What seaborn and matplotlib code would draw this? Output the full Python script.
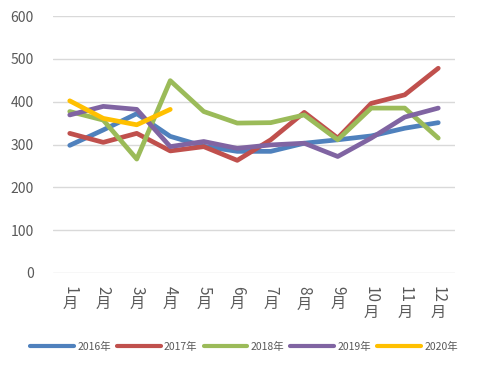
import numpy as np
import pandas as pd
import seaborn as sb
import matplotlib
matplotlib.use("Agg")
import matplotlib.pyplot as plt

months = list(range(1, 13))
month_labels = [f"{m}月" for m in months]
years = ["2016年", "2017年", "2018年", "2019年", "2020年"]

v2016 = [298, 334, 372, 319, 296, 284, 284, 303, 311, 320, 338, 351]
v2017 = [326, 305, 326, 285, 295, 263, 311, 375, 315, 396, 416, 478]
v2018 = [377, 357, 266, 449, 377, 350, 351, 369, 311, 385, 385, 315]
v2019 = [369, 389, 382, 295, 307, 291, 299, 303, 272, 315, 364, 385]
v2020 = [402, 361, 346, 382]

colors = ["#4F81BD", "#C0504D", "#9BBB59", "#8064A2", "#FFC000"]

rows = []
for yr, vals in zip(years, [v2016, v2017, v2018, v2019, v2020]):
    for m, v in zip(months, vals):
        rows.append({"month": m, "value": v, "year": yr})
df = pd.DataFrame(rows)

sb.set_style("white")
plt.rcParams['font.family'] = ['Noto Sans CJK SC', 'DejaVu Sans']
txt_color = "#595959"

fig = plt.figure(figsize=(4.88, 3.68), dpi=100)
ax = fig.add_axes([53/488, 1-273/368, (455-53)/488, (273-16)/368])

sb.lineplot(data=df, x="month", y="value", hue="year", palette=colors,
            linewidth=3.4, ax=ax, legend=True, solid_capstyle="round")

ax.set_xlim(0.5, 12.5)
ax.set_ylim(0, 600)
ax.set_yticks(range(0, 601, 100))
ax.yaxis.grid(True, color="#D9D9D9", linewidth=1)
ax.set_axisbelow(True)
for s in ax.spines.values():
    s.set_visible(False)
ax.tick_params(axis="y", length=0, labelsize=10, labelcolor=txt_color, pad=14)
ax.set_xlabel("")
ax.set_ylabel("")
ax.set_xticks(months)
ax.set_xticklabels([""] * 12)
ax.tick_params(axis="x", length=0)

# month labels: digits turned sideways, 月 upright underneath
fig.canvas.draw()
renderer = fig.canvas.get_renderer()
for m in months:
    t = ax.annotate(str(m), xy=(m, 0), xycoords=("data", "axes fraction"),
                    xytext=(0, -9), textcoords="offset points",
                    rotation=-90, ha="center", va="top",
                    fontsize=11, color=txt_color)
    bb = t.get_window_extent(renderer)
    h = bb.height * 72 / fig.dpi
    ax.annotate("月", xy=(m, 0), xycoords=("data", "axes fraction"),
                xytext=(0, -9 - h - 1), textcoords="offset points",
                ha="center", va="top", fontsize=11, color=txt_color)

handles, labels = ax.get_legend_handles_labels()
ax.legend_.remove()
leg = fig.legend(handles, labels, loc="center", bbox_to_anchor=(0.5, 1-347/368),
                 ncol=5, frameon=False, fontsize=7.5, handlelength=4.2,
                 columnspacing=0.6, handletextpad=0.3)
for t in leg.get_texts():
    t.set_color(txt_color)
for l in leg.get_lines():
    l.set_linewidth(3)

fig.savefig("out.png", dpi=100)
